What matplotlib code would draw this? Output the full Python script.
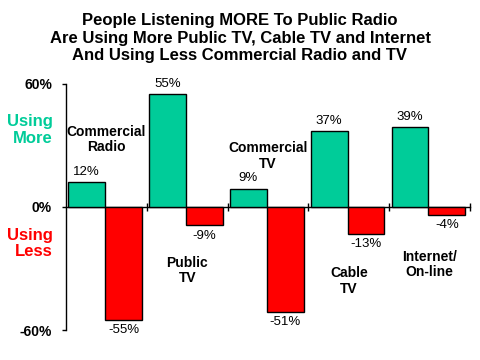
import numpy as np
import matplotlib.pyplot as plt

# Data
categories = ["Commercial\nRadio", "Public\nTV", "Commercial\nTV", "Cable\nTV", "Internet/\nOn-line"]
using_more = [12, 55, 9, 37, 39]
using_less = [-55, -9, -51, -13, -4]
label_y = [33, -31, 25, -36, -28]
y_ticks = [-60, 0, 60]
y_tick_labels = ["-60%", "0%", "60%"]

green = '#00CC99'
red = '#FF0000'
narrow = ['Liberation Sans Narrow', 'Liberation Sans', 'DejaVu Sans']
bold_font = ['Liberation Sans', 'DejaVu Sans']

fig = plt.figure(figsize=(4.8, 3.6), dpi=100)
fig.patch.set_facecolor('white')
ax = fig.add_axes([0.1375, 0.0833, 0.8417, 0.6834])

x = np.arange(len(categories))
gap = 0.03
width = 0.455

ax.bar(x + gap, using_more, width, align='edge', color=green, edgecolor='black', linewidth=1, zorder=3)
ax.bar(x + gap + width, using_less, width, align='edge', color=red, edgecolor='black', linewidth=1, zorder=3)

# Value labels
for i in range(len(categories)):
    ax.annotate(f"{using_more[i]}%", (x[i] + gap + width / 2, using_more[i]),
                xytext=(0, 3), textcoords='offset points', ha='center', va='bottom',
                fontsize=9.5, family=narrow)
    ax.annotate(f"{using_less[i]}%", (x[i] + gap + width * 1.5, using_less[i]),
                xytext=(0, -3), textcoords='offset points', ha='center', va='top',
                fontsize=9.5, family=narrow)
    # Category labels
    ax.text(x[i] + 0.5, label_y[i], categories[i], ha='center', va='center',
            fontsize=10, fontweight='bold', family=bold_font, linespacing=1.15)

# Axes styling
ax.set_xlim(0, len(categories))
ax.set_ylim(-60, 60)
ax.spines['top'].set_visible(False)
ax.spines['right'].set_visible(False)
ax.spines['bottom'].set_position(('data', 0))
ax.spines['left'].set_linewidth(1)
ax.spines['bottom'].set_linewidth(1)

ax.set_yticks(y_ticks)
ax.set_yticklabels(y_tick_labels, fontsize=10, fontweight='bold', family=narrow)
ax.tick_params(axis='y', direction='out', length=3, width=1, pad=7)

ax.set_xticks(x + 1)
ax.set_xticklabels([])
ax.tick_params(axis='x', direction='inout', length=6, width=1)

# Side labels
fig.text(53 / 480, 1 - 130 / 360, "Using\nMore", ha='right', va='center', color=green,
         fontsize=12, fontweight='bold', family=bold_font, multialignment='right', linespacing=1.1)
fig.text(53 / 480, 1 - 243.5 / 360, "Using\nLess", ha='right', va='center', color=red,
         fontsize=12, fontweight='bold', family=bold_font, multialignment='right', linespacing=1.1)

# Title
fig.text(0.5, 1 - 38 / 360, "People Listening MORE To Public Radio\n"
         "Are Using More Public TV, Cable TV and Internet\n"
         "And Using Less Commercial Radio and TV",
         ha='center', va='center', fontsize=12, fontweight='bold', family=bold_font, linespacing=1.2)

fig.savefig('out.png', dpi=100)
